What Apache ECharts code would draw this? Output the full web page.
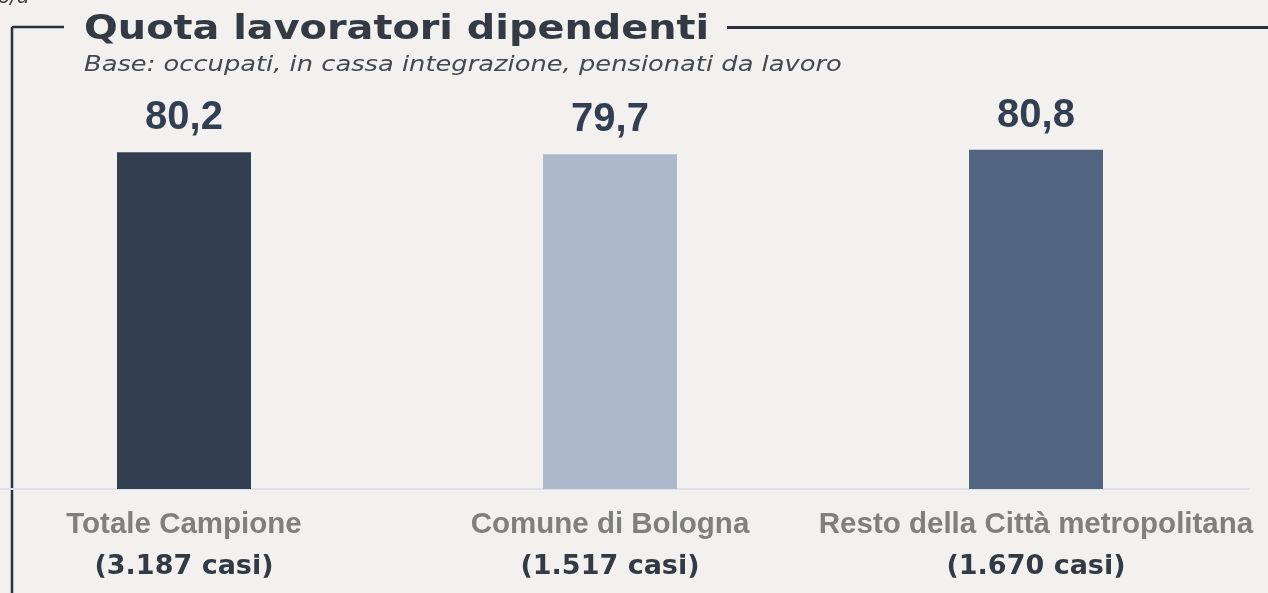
<!DOCTYPE html>
<html>
<head>
<meta charset="utf-8">
<script src="https://cdn.jsdelivr.net/npm/echarts@6/dist/echarts.min.js"></script>
<style>
  html, body { margin: 0; padding: 0; background: #f2f1ef; }
  #chart { width: 1268px; height: 593px; }
</style>
</head>
<body>
<div id="chart"></div>
<script>
// dati
const categories = ['Totale Campione', 'Comune di Bologna', 'Resto della Città metropolitana'];
const cases = ['(3.187 casi)', '(1.517 casi)', '(1.670 casi)'];
const values = [80.2, 79.7, 80.8];
const barColors = ['#333f50', '#adb9ca', '#526580'];

const chart = echarts.init(document.getElementById('chart'));

const option = {
  backgroundColor: '#f2f1ef',
  animation: false,
  grid: { left: -29, right: 19, top: 69, bottom: 104, outerBoundsMode: 'none' },
  graphic: [
    // cornice
    { type: 'line', shape: { x1: 12, y1: 27, x2: 12, y2: 600 }, style: { stroke: '#2b3039', lineWidth: 2.5 } },
    { type: 'line', shape: { x1: 12, y1: 27, x2: 64, y2: 27 }, style: { stroke: '#2b3039', lineWidth: 2.5 } },
    { type: 'line', shape: { x1: 727, y1: 27.5, x2: 1268, y2: 27.5 }, style: { stroke: '#2b3039', lineWidth: 3 } },
    // frammento in alto a sinistra
    { type: 'text', x: -2, y: -12, style: { text: 'o/a', font: 'italic 20px "DejaVu Sans"', fill: '#444' } },
    { type: 'text', x: 84, y: 13, scaleX: 1.17, style: { text: 'Quota lavoratori dipendenti', font: 'bold 34px "DejaVu Sans"', fill: '#343a44' } },
    { type: 'text', x: 84, y: 54, scaleX: 1.17, style: { text: 'Base: occupati, in cassa integrazione, pensionati da lavoro', font: 'italic 22px "DejaVu Sans"', fill: '#444850' } }
  ],
  xAxis: {
    type: 'category',
    data: categories,
    axisLine: { lineStyle: { color: '#dde1e7', width: 2 } },
    axisTick: { show: false },
    axisLabel: {
      margin: 16,
      interval: 0,
      formatter: function (val, idx) {
        return '{a|' + val + '}\n{b|' + cases[idx] + '}';
      },
      rich: {
        a: { fontFamily: '"Liberation Sans"', fontWeight: 'bold', fontSize: 29.5, color: '#7f7f7f', lineHeight: 40 },
        b: { fontFamily: '"DejaVu Sans"', fontWeight: 'bold', fontSize: 27, color: '#343a44', lineHeight: 44 }
      }
    }
  },
  yAxis: {
    type: 'value',
    min: 0,
    max: 100,
    show: false
  },
  series: [
    {
      type: 'bar',
      barWidth: 134,
      data: values.map((v, i) => ({ value: v, itemStyle: { color: barColors[i] } })),
      label: {
        show: true,
        position: 'top',
        distance: 14,
        fontFamily: '"Liberation Sans"',
        fontWeight: 'bold',
        fontSize: 40,
        color: '#333f50',
        formatter: p => p.value.toFixed(1).replace('.', ',')
      }
    }
  ]
};

chart.setOption(option);
</script>
</body>
</html>
